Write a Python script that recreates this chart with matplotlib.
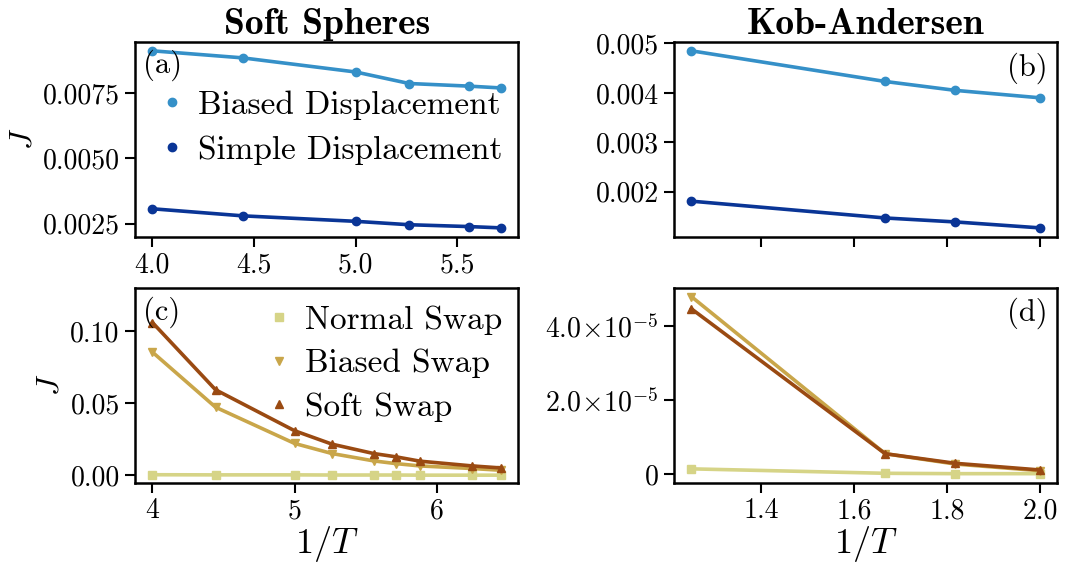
import numpy as np
import matplotlib
matplotlib.use('Agg')
import matplotlib.pyplot as plt
from matplotlib.lines import Line2D
from matplotlib.ticker import FuncFormatter

plt.rcParams['font.family'] = 'cmr10'
plt.rcParams['mathtext.fontset'] = 'cm'
plt.rcParams['axes.formatter.use_mathtext'] = True
plt.rcParams['axes.unicode_minus'] = False

# soft spheres, displacement moves
ss_disp_x = [4.0, 4.444, 5.0, 5.263, 5.556, 5.714]
ss_biased_disp = [0.00911, 0.00884, 0.00830, 0.00786, 0.00776, 0.00769]
ss_simple_disp = [0.00307, 0.00280, 0.00259, 0.00246, 0.00239, 0.00234]

# kob-andersen, displacement moves
ka_x = [1.25, 1.667, 1.818, 2.0]
ka_biased_disp = [0.00485, 0.00423, 0.00405, 0.00390]
ka_simple_disp = [0.00181, 0.00147, 0.00139, 0.00127]

# soft spheres, swap moves
ss_swap_x = [4.0, 4.444, 5.0, 5.263, 5.556, 5.714, 5.882, 6.25, 6.452]
ss_normal_swap = [0.0004, 0.0003, 0.0003, 0.0002, 0.0002, 0.0002, 0.0001, 0.0001, 0.0001]
ss_biased_swap = [0.0854, 0.0472, 0.0221, 0.0151, 0.0100, 0.0081, 0.0065, 0.0047, 0.0035]
ss_soft_swap = [0.1059, 0.0593, 0.0309, 0.0216, 0.0151, 0.0128, 0.0098, 0.0065, 0.0051]

# kob-andersen, swap moves
ka_normal_swap = [0.14e-5, 0.02e-5, 0.01e-5, 0.01e-5]
ka_biased_swap = [4.80e-5, 0.55e-5, 0.27e-5, 0.09e-5]
ka_soft_swap = [4.47e-5, 0.55e-5, 0.29e-5, 0.11e-5]

c_bdisp = '#3590c8'
c_sdisp = '#0a3596'
c_nswap = '#d6d487'
c_bswap = '#c9a64a'
c_sswap = '#9a4a12'

lw = 2.6
ms = 6
fs = 20
fs_leg = 24

fig, axes = plt.subplots(2, 2, figsize=(10.8, 5.67), dpi=100)
fig.subplots_adjust(left=0.125, right=0.979, top=0.926, bottom=0.149,
                    hspace=0.262, wspace=0.406)
ax_a, ax_b = axes[0]
ax_c, ax_d = axes[1]

ax_a.plot(ss_disp_x, ss_biased_disp, '-o', color=c_bdisp, lw=lw, ms=ms)
ax_a.plot(ss_disp_x, ss_simple_disp, '-o', color=c_sdisp, lw=lw, ms=ms)
ax_b.plot(ka_x, ka_biased_disp, '-o', color=c_bdisp, lw=lw, ms=ms)
ax_b.plot(ka_x, ka_simple_disp, '-o', color=c_sdisp, lw=lw, ms=ms)

ax_c.plot(ss_swap_x, ss_normal_swap, '-s', color=c_nswap, lw=lw, ms=ms)
ax_c.plot(ss_swap_x, ss_biased_swap, '-v', color=c_bswap, lw=lw, ms=ms)
ax_c.plot(ss_swap_x, ss_soft_swap, '-^', color=c_sswap, lw=lw, ms=ms)
ax_d.plot(ka_x, ka_normal_swap, '-s', color=c_nswap, lw=lw, ms=ms)
ax_d.plot(ka_x, ka_biased_swap, '-v', color=c_bswap, lw=lw, ms=ms)
ax_d.plot(ka_x, ka_soft_swap, '-^', color=c_sswap, lw=lw, ms=ms)

ax_c.set_ylim(-0.005, 0.13)

ax_a.set_xticks([4.0, 4.5, 5.0, 5.5])
ax_a.set_yticks([0.0025, 0.0050, 0.0075])
ax_a.yaxis.set_major_formatter(FuncFormatter(lambda v, p: '%.4f' % v))
ax_a.xaxis.set_major_formatter(FuncFormatter(lambda v, p: '%.1f' % v))
ax_b.set_yticks([0.002, 0.003, 0.004, 0.005])
ax_b.yaxis.set_major_formatter(FuncFormatter(lambda v, p: '%.3f' % v))
for ax in (ax_b, ax_d):
    ax.set_xticks([1.4, 1.6, 1.8, 2.0])
ax_b.set_xticklabels([])
ax_d.xaxis.set_major_formatter(FuncFormatter(lambda v, p: '%.1f' % v))
ax_c.set_xticks([4, 5, 6])
ax_c.xaxis.set_major_formatter(FuncFormatter(lambda v, p: '%d' % round(v)))
ax_c.set_yticks([0.0, 0.05, 0.10])
ax_c.yaxis.set_major_formatter(FuncFormatter(lambda v, p: '%.2f' % v))


def sci_fmt(v, pos):
    if abs(v) < 1e-12:
        return '0'
    e = int(np.floor(np.log10(abs(v))))
    return r'$%.1f\!\times\!10^{%d}$' % (v / 10 ** e, e)


ax_d.set_yticks([0, 2e-5, 4e-5])
ax_d.yaxis.set_major_formatter(FuncFormatter(sci_fmt))

for ax in axes.flat:
    ax.tick_params(direction='out', length=7, width=1.5, labelsize=fs, pad=4)
    for s in ax.spines.values():
        s.set_linewidth(1.8)

ax_a.set_ylabel(r'$J$', fontsize=fs + 3)
ax_c.set_ylabel(r'$J$', fontsize=fs + 3)
ax_c.set_xlabel(r'$1/T$', fontsize=fs + 6, labelpad=0)
ax_d.set_xlabel(r'$1/T$', fontsize=fs + 6, labelpad=0)

ax_a.set_title('Soft Spheres', fontfamily='cmb10', fontsize=27, pad=6)
ax_b.set_title('Kob-Andersen', fontfamily='cmb10', fontsize=27, pad=6)

ax_a.text(0.02, 0.84, '(a)', transform=ax_a.transAxes, fontsize=22)
ax_b.text(0.87, 0.825, '(b)', transform=ax_b.transAxes, fontsize=22)
ax_c.text(0.02, 0.835, '(c)', transform=ax_c.transAxes, fontsize=22)
ax_d.text(0.87, 0.83, '(d)', transform=ax_d.transAxes, fontsize=22)

disp_handles = [Line2D([], [], ls='none', marker='o', color=c_bdisp, ms=ms),
                Line2D([], [], ls='none', marker='o', color=c_sdisp, ms=ms)]
ax_a.legend(disp_handles, ['Biased Displacement', 'Simple Displacement'],
            loc='upper right', bbox_to_anchor=(1.02, 0.87), frameon=False,
            fontsize=fs_leg, handlelength=0.6, handletextpad=0.5,
            labelspacing=0.45, borderpad=0.2)

swap_handles = [Line2D([], [], ls='none', marker='s', color=c_nswap, ms=ms),
                Line2D([], [], ls='none', marker='v', color=c_bswap, ms=ms),
                Line2D([], [], ls='none', marker='^', color=c_sswap, ms=ms)]
ax_c.legend(swap_handles, ['Normal Swap', 'Biased Swap', 'Soft Swap'],
            loc='upper right', bbox_to_anchor=(1.02, 1.03), frameon=False,
            fontsize=fs_leg, handlelength=0.6, handletextpad=0.5,
            labelspacing=0.42, borderpad=0.2)

fig.savefig('out.png', dpi=100)
